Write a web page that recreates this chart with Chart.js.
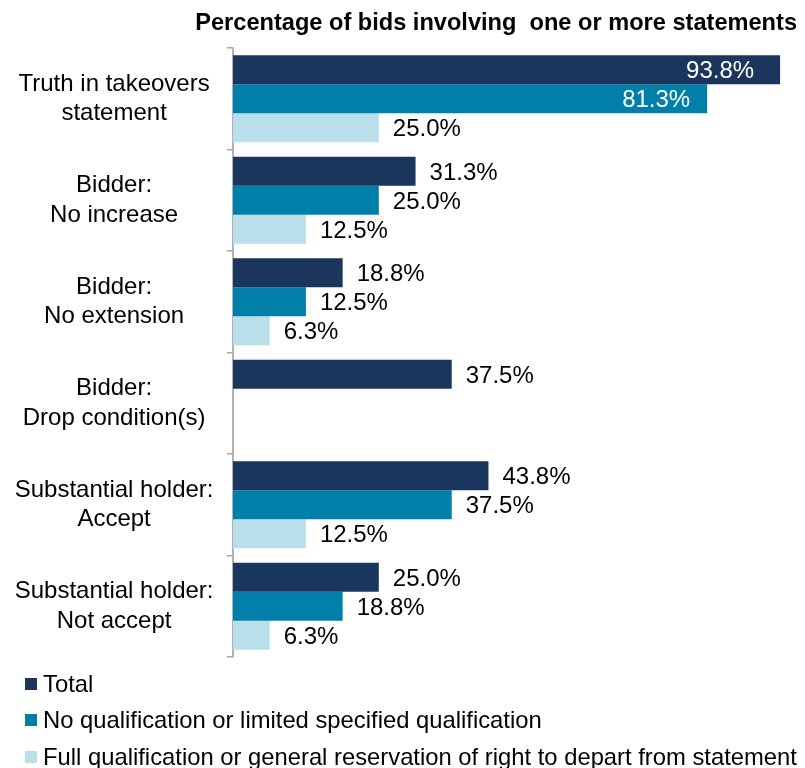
<!DOCTYPE html>
<html>
<head>
<meta charset="utf-8">
<script src="https://cdn.jsdelivr.net/npm/chart.js@4/dist/chart.umd.min.js"></script>
<style>
  html, body { margin: 0; padding: 0; background: #ffffff; }
  #wrap { position: relative; width: 805px; height: 768px; overflow: hidden; }
  #c { position: absolute; left: 0; top: 0; }
  #title { position: absolute; left: 0; top: 8px; width: 797px; text-align: right; white-space: pre;
           font-family: "Liberation Sans", Arial, sans-serif; font-weight: bold; font-size: 23.6px; line-height: 28px; color: #000; }
  #legend { position: absolute; left: 25px; top: 666px; font-family: "Liberation Sans", Arial, sans-serif; font-size: 23.8px; color: #000; }
  .li { height: 36.3px; display: flex; align-items: center; white-space: nowrap; }
  .sw { width: 12px; height: 12px; margin-right: 6px; flex: 0 0 12px; }
</style>
</head>
<body>
<div id="wrap">
  <canvas id="c" width="805" height="768"></canvas>
  <div id="title"></div>
  <div id="legend"></div>
</div>
<script>
const chartTitle = "Percentage of bids involving  one or more statements";
const categories = [
  ["Truth in takeovers", "statement"],
  ["Bidder:", "No increase"],
  ["Bidder:", "No extension"],
  ["Bidder:", "Drop condition(s)"],
  ["Substantial holder:", "Accept"],
  ["Substantial holder:", "Not accept"]
];
const seriesNames = [
  "Total",
  "No qualification or limited specified qualification",
  "Full qualification or general reservation of right to depart from statement"
];
const totalValues = [93.8, 31.3, 18.8, 37.5, 43.8, 25.0];
const noQualValues = [81.3, 25.0, 12.5, null, 37.5, 18.8];
const fullQualValues = [25.0, 12.5, 6.3, null, 12.5, 6.3];
const seriesColors = ["#1b365d", "#0080a8", "#b9e0ea"];

const FONT = "'Liberation Sans', Arial, sans-serif";

const valueLabels = {
  id: "valueLabels",
  afterDatasetsDraw(chart) {
    const ctx = chart.ctx;
    ctx.save();
    ctx.font = "24px " + FONT;
    const insidePad = [26, 17, 17];
    chart.data.datasets.forEach((ds, di) => {
      const meta = chart.getDatasetMeta(di);
      meta.data.forEach((el, i) => {
        const v = ds.data[i];
        if (v === null || v === undefined) return;
        const txt = v.toFixed(1) + "%";
        const by = el.y + 8.5;
        if (v > 60) {
          ctx.fillStyle = "#ffffff";
          ctx.textAlign = "right";
          ctx.fillText(txt, el.x - insidePad[di], by);
        } else {
          ctx.fillStyle = "#000000";
          ctx.textAlign = "left";
          ctx.fillText(txt, el.x + 14, by);
        }
      });
    });
    ctx.restore();
  }
};

const chart = new Chart(document.getElementById("c"), {
  type: "bar",
  data: {
    labels: categories,
    datasets: [
      { label: seriesNames[0], data: totalValues, backgroundColor: seriesColors[0] },
      { label: seriesNames[1], data: noQualValues, backgroundColor: seriesColors[1] },
      { label: seriesNames[2], data: fullQualValues, backgroundColor: seriesColors[2] }
    ]
  },
  options: {
    indexAxis: "y",
    responsive: false,
    animation: false,
    events: [],
    datasets: { bar: { categoryPercentage: 0.857, barPercentage: 1.0, borderWidth: 0 } },
    layout: { padding: { left: 0, right: 8, top: 48, bottom: 111 } },
    plugins: {
      legend: { display: false },
      tooltip: { enabled: false },
      title: { display: false }
    },
    scales: {
      x: { display: false, min: 0, max: 96.7 },
      y: {
        grid: { display: true, drawOnChartArea: false, offset: true, tickLength: 6, color: "#a6a6a6", lineWidth: 1.5 },
        border: { display: true, color: "#b3b3b3", width: 2 },
        ticks: { color: "#000000", font: { family: FONT, size: 24, lineHeight: 1.22 }, crossAlign: "center", padding: 13.5, autoSkip: false },
        afterFit(scale) { scale.width = 233; }
      }
    }
  },
  plugins: [valueLabels]
});

document.getElementById("title").textContent = chartTitle;

// HTML legend built from the chart's datasets
const legendEl = document.getElementById("legend");
chart.data.datasets.forEach(ds => {
  const row = document.createElement("div");
  row.className = "li";
  const sw = document.createElement("span");
  sw.className = "sw";
  sw.style.background = ds.backgroundColor;
  const tx = document.createElement("span");
  tx.textContent = ds.label;
  row.appendChild(sw);
  row.appendChild(tx);
  legendEl.appendChild(row);
});
</script>
</body>
</html>
